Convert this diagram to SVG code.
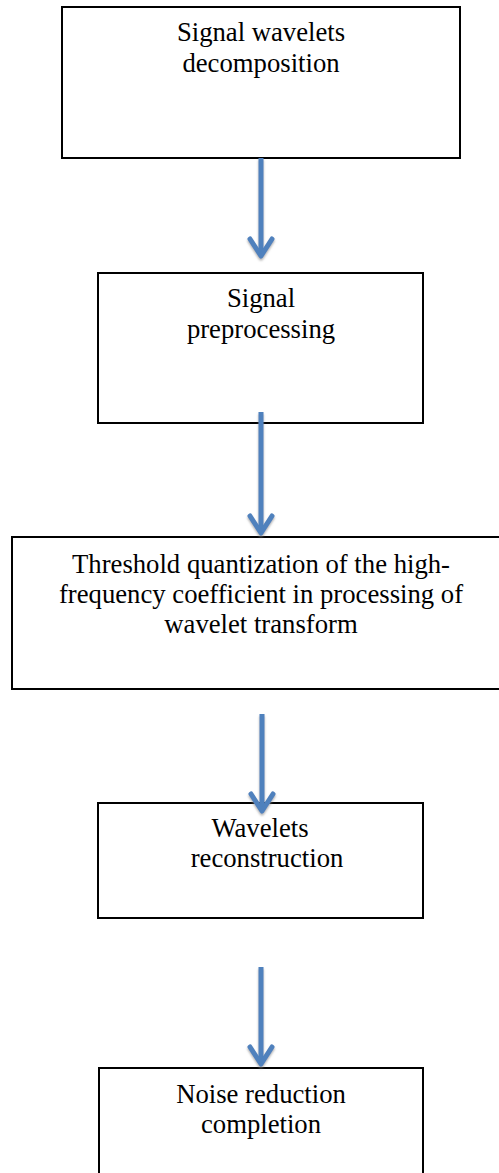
<svg xmlns="http://www.w3.org/2000/svg" width="499" height="1173" viewBox="0 0 499 1173">
  <style>
    .box { fill: #ffffff; stroke: #000000; stroke-width: 2; }
    .label { font-family: "Liberation Serif", "Times New Roman", serif; font-size: 26.7px; fill: #000000; text-anchor: middle; }
    .shaft { stroke: #4F81BD; stroke-width: 5; fill: none; }
    .head { stroke: #4F81BD; stroke-width: 5; fill: none; stroke-linecap: round; stroke-linejoin: round; }
  </style>
  <defs>
    <filter id="shadow" x="-50%" y="-20%" width="200%" height="140%">
      <feDropShadow dx="0" dy="2" stdDeviation="1.2" flood-color="#808080" flood-opacity="0.6"/>
    </filter>
  </defs>

  <rect width="499" height="1173" fill="#ffffff"/>

  <!-- process steps -->
  <g id="node-decomposition">
    <rect class="box" x="62" y="7" width="398" height="151"/>
    <text class="label" x="261" y="41">Signal wavelets</text>
    <text class="label" x="261" y="72">decomposition</text>
  </g>

  <g id="node-preprocessing">
    <rect class="box" x="98" y="273" width="325" height="150"/>
    <text class="label" x="261" y="307">Signal</text>
    <text class="label" x="261" y="338">preprocessing</text>
  </g>

  <g id="node-threshold">
    <rect class="box" x="12" y="537" width="500" height="152"/>
    <text class="label" x="261" y="573">Threshold quantization of the high-</text>
    <text class="label" x="261" y="603">frequency coefficient in processing of</text>
    <text class="label" x="261" y="633">wavelet transform</text>
  </g>

  <g id="node-reconstruction">
    <rect class="box" x="98" y="803" width="325" height="115"/>
    <text class="label" x="260" y="837">Wavelets</text>
    <text class="label" x="267" y="867">reconstruction</text>
  </g>

  <g id="node-completion">
    <rect class="box" x="99" y="1068" width="324" height="120"/>
    <text class="label" x="261" y="1103">Noise reduction</text>
    <text class="label" x="261" y="1133">completion</text>
  </g>

  <!-- connectors -->
  <g id="connectors" filter="url(#shadow)">
    <line class="shaft" x1="261" y1="158" x2="261" y2="255"/>
    <polyline class="head" points="250,239 261,256 272,239"/>

    <line class="shaft" x1="261" y1="412" x2="261" y2="532"/>
    <polyline class="head" points="250,516 261,533 272,516"/>

    <line class="shaft" x1="262" y1="714" x2="262" y2="810"/>
    <polyline class="head" points="251,794 262,811 273,794"/>

    <line class="shaft" x1="261" y1="967" x2="261" y2="1063"/>
    <polyline class="head" points="250,1047 261,1064 272,1047"/>
  </g>
</svg>
